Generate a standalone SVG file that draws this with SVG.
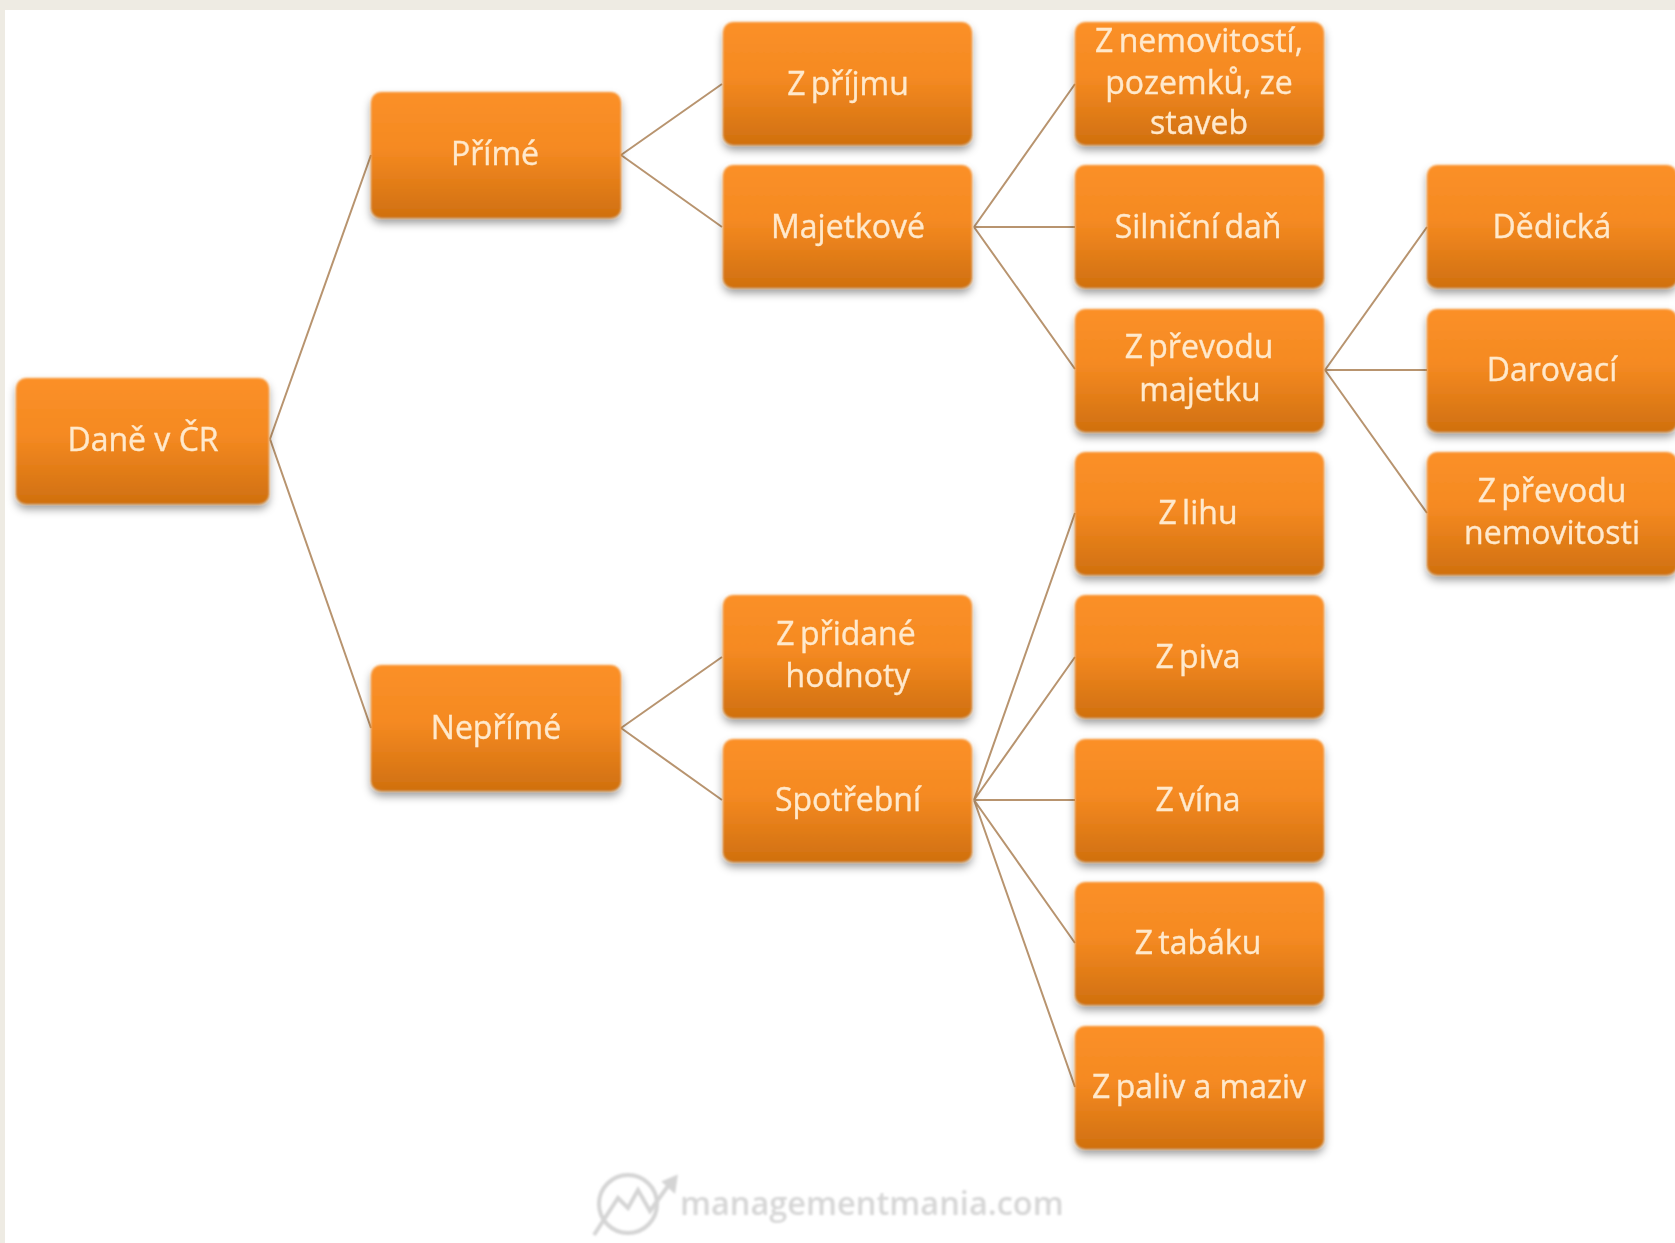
<svg xmlns="http://www.w3.org/2000/svg" width="1675" height="1243" viewBox="0 0 1675 1243">
<style>
.b{fill:url(#g);filter:url(#s)}
.t{font-family:"Open Sans","Liberation Sans",sans-serif;font-size:32px;fill:#ffe9cc;stroke:#ffe9cc;stroke-width:.35;text-anchor:middle;filter:url(#b)}
.z{word-spacing:-3px}
.c{fill:none;stroke:#b8946f;stroke-width:2}
</style>
<defs>
<linearGradient id="g" x1="0" y1="0" x2="0" y2="1"><stop offset="0" stop-color="#fb9028"/><stop offset=".45" stop-color="#f58a22"/><stop offset="1" stop-color="#d0700f"/></linearGradient>
<filter id="s" x="-10%" y="-15%" width="120%" height="135%"><feGaussianBlur in="SourceGraphic" stdDeviation="1" result="a"/><feDropShadow in="a" dx="0" dy="5" stdDeviation="4" flood-color="#000" flood-opacity=".4"/></filter>
<filter id="b" x="-5%" y="-10%" width="110%" height="120%"><feGaussianBlur stdDeviation=".7"/></filter>
<filter id="w" x="-5%" y="-20%" width="110%" height="140%"><feGaussianBlur stdDeviation="1"/></filter>
</defs>
<rect width="1675" height="1243" fill="#eeebe3"/>
<rect x="5" y="10" width="1670" height="1233" fill="#fff"/>
<g id="connectors" class="c">
<path d="M270 439L371 155M270 439L371 728"/>
<path d="M621 155L722 84M621 155L722 227"/>
<path d="M621 728L722 657M621 728L722 800"/>
<path d="M974 227L1075 84M974 227L1075 227M974 227L1075 369"/>
<path d="M1325 370L1427 227M1325 370L1427 370M1325 370L1427 513"/>
<path d="M974 800L1075 513M974 800L1075 657M974 800L1075 800M974 800L1075 943M974 800L1075 1087"/>
</g>
<g id="n1"><rect class="b" x="16" y="378" width="253" height="126" rx="10"/><text class="t" x="143" y="451">Daně v ČR</text></g>
<g id="n2"><rect class="b" x="371" y="92" width="250" height="126" rx="10"/><text class="t" x="495" y="165">Přímé</text></g>
<g id="n3"><rect class="b" x="371" y="665" width="250" height="126" rx="10"/><text class="t" x="496" y="739">Nepřímé</text></g>
<g id="n4"><rect class="b" x="723" y="22" width="249" height="123" rx="10"/><text class="t z" x="848" y="95">Z příjmu</text></g>
<g id="n5"><rect class="b" x="723" y="165" width="249" height="123" rx="10"/><text class="t" x="848" y="238">Majetkové</text></g>
<g id="n6"><rect class="b" x="723" y="595" width="249" height="123" rx="10"/><text class="t z" x="846" y="645">Z přidané</text><text class="t" x="848" y="687">hodnoty</text></g>
<g id="n7"><rect class="b" x="723" y="739" width="249" height="123" rx="10"/><text class="t" x="848" y="811">Spotřební</text></g>
<g id="n8"><rect class="b" x="1075" y="22" width="249" height="123" rx="10"/><text class="t z" x="1199" y="52">Z nemovitostí,</text><text class="t" x="1199" y="94">pozemků, ze</text><text class="t" x="1199" y="134">staveb</text></g>
<g id="n9"><rect class="b" x="1075" y="165" width="249" height="123" rx="10"/><text class="t z" x="1198" y="238">Silniční daň</text></g>
<g id="n10"><rect class="b" x="1075" y="309" width="249" height="123" rx="10"/><text class="t z" x="1199" y="358">Z převodu</text><text class="t" x="1200" y="401">majetku</text></g>
<g id="n11"><rect class="b" x="1075" y="452" width="249" height="123" rx="10"/><text class="t z" x="1198" y="524">Z lihu</text></g>
<g id="n12"><rect class="b" x="1075" y="595" width="249" height="123" rx="10"/><text class="t z" x="1198" y="668">Z piva</text></g>
<g id="n13"><rect class="b" x="1075" y="739" width="249" height="123" rx="10"/><text class="t z" x="1198" y="811">Z vína</text></g>
<g id="n14"><rect class="b" x="1075" y="882" width="249" height="123" rx="10"/><text class="t z" x="1198" y="954">Z tabáku</text></g>
<g id="n15"><rect class="b" x="1075" y="1026" width="249" height="123" rx="10"/><text class="t" x="1199" y="1098"><tspan class="z">Z paliv</tspan> a maziv</text></g>
<g id="n16"><rect class="b" x="1427" y="165" width="250" height="123" rx="10"/><text class="t" x="1552" y="238">Dědická</text></g>
<g id="n17"><rect class="b" x="1427" y="309" width="250" height="123" rx="10"/><text class="t" x="1552" y="381">Darovací</text></g>
<g id="n18"><rect class="b" x="1427" y="452" width="250" height="123" rx="10"/><text class="t z" x="1552" y="502">Z převodu</text><text class="t" x="1552" y="544">nemovitosti</text></g>
<g id="logo" filter="url(#w)">
<circle cx="628" cy="1204" r="29" fill="none" stroke="#d4d4d4" stroke-width="4"/>
<path d="M594 1235L618 1198L628 1208L638 1190L650 1211L668 1186" fill="none" stroke="#d4d4d4" stroke-width="4"/>
<path d="M676 1177L664 1182L674 1191Z" fill="#d4d4d4" stroke="#d4d4d4" stroke-width="3"/>
<text x="680" y="1215" font-family="Open Sans,sans-serif" font-weight="600" font-size="32.5" fill="#d6d6d6">managementmania.com</text>
</g>
</svg>
